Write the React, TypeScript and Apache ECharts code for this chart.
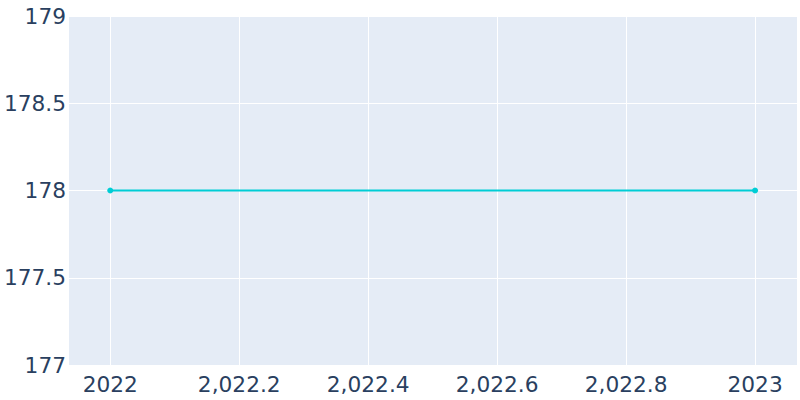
import React, { useEffect, useRef } from "react";
import * as echarts from "echarts";

const years = [2022, 2023];
const values = [178, 178];
const xTicks = [2022, 2022.2, 2022.4, 2022.6, 2022.8, 2023];
const yTicks = [177, 177.5, 178, 178.5, 179];

function fmtX(v: number): string {
  const r = Math.round(v * 10) / 10;
  if (Number.isInteger(r)) return String(r);
  return r.toLocaleString("en-US", { minimumFractionDigits: 1, maximumFractionDigits: 1 });
}

export default function App() {
  const ref = useRef<HTMLDivElement>(null);
  useEffect(() => {
    if (!ref.current) return;
    const chart = echarts.init(ref.current, undefined, { renderer: "svg" });
    const textColor = "#2a3f5f";
    const font = "DejaVu Sans";
    chart.setOption({
      animation: false,
      backgroundColor: "#ffffff",
      grid: {
        left: 69,
        right: 3,
        top: 16,
        bottom: 35,
        show: true,
        backgroundColor: "#e5ecf6",
        borderWidth: 0,
      },
      xAxis: {
        type: "value",
        min: 2021.936,
        max: 2023.065,
        axisLine: { show: false },
        axisTick: { show: false, customValues: xTicks },
        axisLabel: {
          customValues: xTicks,
          formatter: (v: number) => fmtX(v),
          color: textColor,
          fontFamily: font,
          fontSize: 21.7,
          margin: 8,
        },
        splitLine: { show: true, lineStyle: { color: "#ffffff", width: 1 } },
      },
      yAxis: {
        type: "value",
        min: yTicks[0],
        max: yTicks[yTicks.length - 1],
        interval: 0.5,
        axisLine: { show: false },
        axisTick: { show: false },
        axisLabel: {
          formatter: (v: number) => String(v),
          color: textColor,
          fontFamily: font,
          fontSize: 21.7,
          margin: 3,
        },
        splitLine: { show: true, lineStyle: { color: "#ffffff", width: 1 } },
      },
      series: [
        {
          type: "line",
          data: years.map((y, i) => [y, values[i]]),
          lineStyle: { color: "#00cdd5", width: 2 },
          itemStyle: { color: "#00cdd5" },
          symbol: "circle",
          symbolSize: 6,
          showSymbol: true,
        },
      ],
    });
    return () => chart.dispose();
  }, []);
  return <div ref={ref} style={{ width: 800, height: 400, position: "absolute", left: 0, top: 0 }} />;
}
